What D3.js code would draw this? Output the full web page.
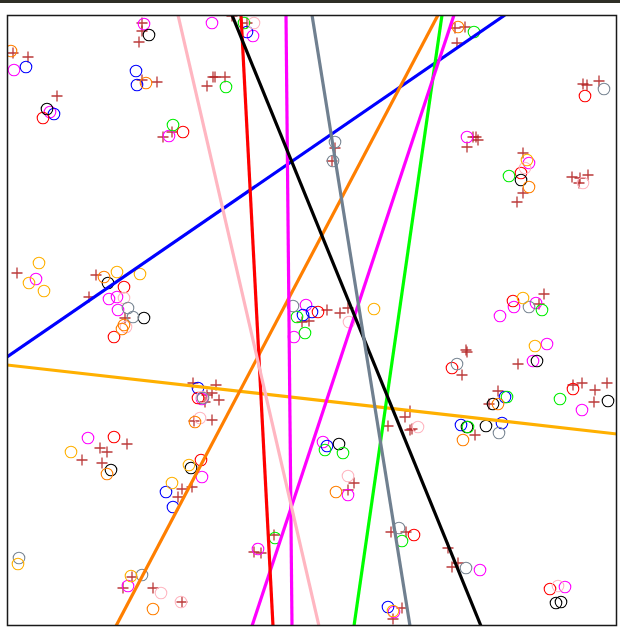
<!DOCTYPE html>
<html>
<head>
<meta charset="utf-8">
<script src="https://cdn.jsdelivr.net/npm/d3@7"></script>
<style>
  html, body { margin: 0; padding: 0; background: #ffffff; }
  svg { display: block; }
</style>
</head>
<body>
<svg id="chart" width="620" height="630"></svg>
<script>
// Plot extent in data units
const xDomain = [0, 610];
const yDomain = [0, 611];

// Cross markers [x, y]
const crossPts = [
  [135,603],[135,595],[132,584],[6,573],[21,569],[135,546],[150,544],[50,530],[165,494],[156,489],
  [225,610],[240,603],[200,540],[206,549],[208,549],[218,549],[328,478],[325,465],
  [448,598],[458,599],[450,583],[576,542],[580,541],[592,545],[466,489],[469,489],[471,486],[460,479],
  [516,473],[516,433],[510,424],[565,449],[573,448],[581,451],[572,443],
  [10,353],[89,351],[82,329],[118,308],
  [320,316],[333,313],[341,318],[295,304],[302,305],
  [537,332],[532,322],[511,262],[459,276],[460,274],[455,251],[491,235],[482,222],[566,241],[575,243],
  [588,236],[600,243],[587,224],
  [405,197],[468,191],[441,78],[445,59],[451,63],
  [120,182],[93,178],[100,174],[75,166],[95,163],[175,137],[185,139],[171,129],[125,49],[116,38],[146,38],[175,24],
  [347,143],[341,136],[267,91],[247,74],[254,73],[384,94],[399,94],[395,18],[386,7],
  [186,243],[209,241],[200,231],[205,233],[212,226],[198,224],[187,205],[205,206],
  [403,215],[398,209],[381,200],[403,196]
];

// Open circle markers, one list per colour
const magentaPts = [
  [137,602],[7,556],[43,514],[162,490],[205,603],[246,590],[460,489],[522,463],[29,347],[102,327],
  [110,329],[111,316],[299,321],[287,289],[507,319],[529,323],[493,310],[540,282],[526,265],[575,216],
  [473,56],[558,39],[81,188],[195,149],[121,40],[316,184],[341,131],[251,77],[387,14],[195,227]
];
const bluePts = [
  [19,559],[129,555],[130,541],[47,512],[240,594],[296,311],[305,314],[498,229],[454,201],[495,203],
  [159,134],[166,119],[320,180],[381,19],[191,238]
];
const redPts = [
  [36,508],[176,494],[578,530],[514,453],[117,339],[107,289],[311,314],[506,325],[445,258],[566,237],
  [407,91],[543,37],[107,189],[194,166],[191,228]
];
const blackPts = [
  [142,591],[40,517],[514,446],[101,343],[137,308],[530,265],[486,222],[601,225],[460,199],[479,200],
  [104,156],[184,158],[332,182],[549,23],[554,24]
];
const greenPts = [
  [166,501],[237,603],[219,539],[467,594],[502,450],[290,309],[298,293],[535,316],[500,229],[553,227],
  [461,199],[318,176],[336,173],[268,88],[395,85]
];
const pinkPts = [
  [247,603],[518,458],[576,443],[117,328],[119,299],[342,304],[411,199],[551,40],[193,208],[154,33],
  [174,24],[341,150],[195,229]
];
const grayPts = [
  [328,484],[326,465],[597,537],[121,318],[126,309],[286,320],[522,319],[450,262],[492,193],[459,58],
  [12,68],[135,51],[392,98],[196,228]
];
const amberPts = [
  [32,363],[22,343],[37,335],[110,354],[133,352],[367,317],[516,328],[528,280],[520,466],[64,174],
  [182,161],[165,143],[11,62],[124,50],[386,15]
];
const darkOrangePts = [
  [4,575],[139,543],[451,599],[522,439],[97,349],[117,301],[115,297],[491,222],[456,186],[100,152],
  [146,17],[329,134],[188,204]
];

// Straight lines, each through two points [x1, y1, x2, y2]
const lineNames  = ["blue", "amber", "darkorange", "green", "magentaV", "magentaD", "red", "black", "gray", "pink"];
const lineCoords = [
  [0,269, 498,611],
  [0,261, 610,192],
  [431,611, 109,0],
  [435,611, 347,0],
  [279,611, 285,0],
  [447,611, 245,0],
  [234,611, 266,0],
  [225,611, 474,0],
  [305,611, 403,0],
  [171,611, 312,0]
];
const lineColors = ["#0000ff", "#ffb000", "#ff7f00", "#00ff00", "#ff00ff", "#ff00ff", "#ff0000", "#000000", "#708090", "#ffb6c1"];

const circleSets = [
  { pts: magentaPts, color: "#ff00ff" },
  { pts: bluePts, color: "#0000ff" },
  { pts: redPts, color: "#ff0000" },
  { pts: blackPts, color: "#000000" },
  { pts: greenPts, color: "#00ee00" },
  { pts: pinkPts, color: "#ffb6c1" },
  { pts: grayPts, color: "#7a8794" },
  { pts: amberPts, color: "#ffb000" },
  { pts: darkOrangePts, color: "#ff7f00" }
];

const svg = d3.select("#chart");
const plotL = 7, plotR = 617, plotT = 15, plotB = 626;

const x = d3.scaleLinear().domain(xDomain).range([plotL, plotR]);
const y = d3.scaleLinear().domain(yDomain).range([plotB, plotT]);

// dark strip along the top edge
svg.append("rect").attr("x", 0).attr("y", 0).attr("width", 620).attr("height", 3).attr("fill", "#2e2e26");

svg.append("defs").append("clipPath").attr("id", "plotClip")
  .append("rect").attr("x", plotL).attr("y", plotT).attr("width", plotR - plotL).attr("height", plotB - plotT);

const plot = svg.append("g").attr("clip-path", "url(#plotClip)");

// crosses
const cs = 5.5;
plot.append("g").selectAll("path").data(crossPts).join("path")
  .attr("d", d => {
    const cx = x(d[0]), cy = y(d[1]);
    return `M${cx - cs},${cy}H${cx + cs}M${cx},${cy - cs}V${cy + cs}`;
  })
  .attr("stroke", "#b22222")
  .attr("stroke-opacity", 0.9)
  .attr("stroke-width", 1.3)
  .attr("fill", "none");

// circles
circleSets.forEach(set => {
  plot.append("g").selectAll("circle").data(set.pts).join("circle")
    .attr("cx", d => x(d[0]))
    .attr("cy", d => y(d[1]))
    .attr("r", 5.8)
    .attr("fill", "none")
    .attr("stroke", set.color)
    .attr("stroke-width", 1.1);
});

// lines drawn over the markers
plot.append("g").selectAll("line").data(lineCoords).join("line")
  .attr("x1", d => x(d[0])).attr("y1", d => y(d[1]))
  .attr("x2", d => x(d[2])).attr("y2", d => y(d[3]))
  .attr("stroke", (d, i) => lineColors[i])
  .attr("stroke-width", 3.2)
  .attr("class", (d, i) => lineNames[i]);

// frame
svg.append("rect")
  .attr("x", plotL + 0.5).attr("y", plotT + 0.5)
  .attr("width", plotR - plotL - 1).attr("height", plotB - plotT - 1)
  .attr("fill", "none").attr("stroke", "#1a1a1a").attr("stroke-width", 1.5);
</script>
</body>
</html>
